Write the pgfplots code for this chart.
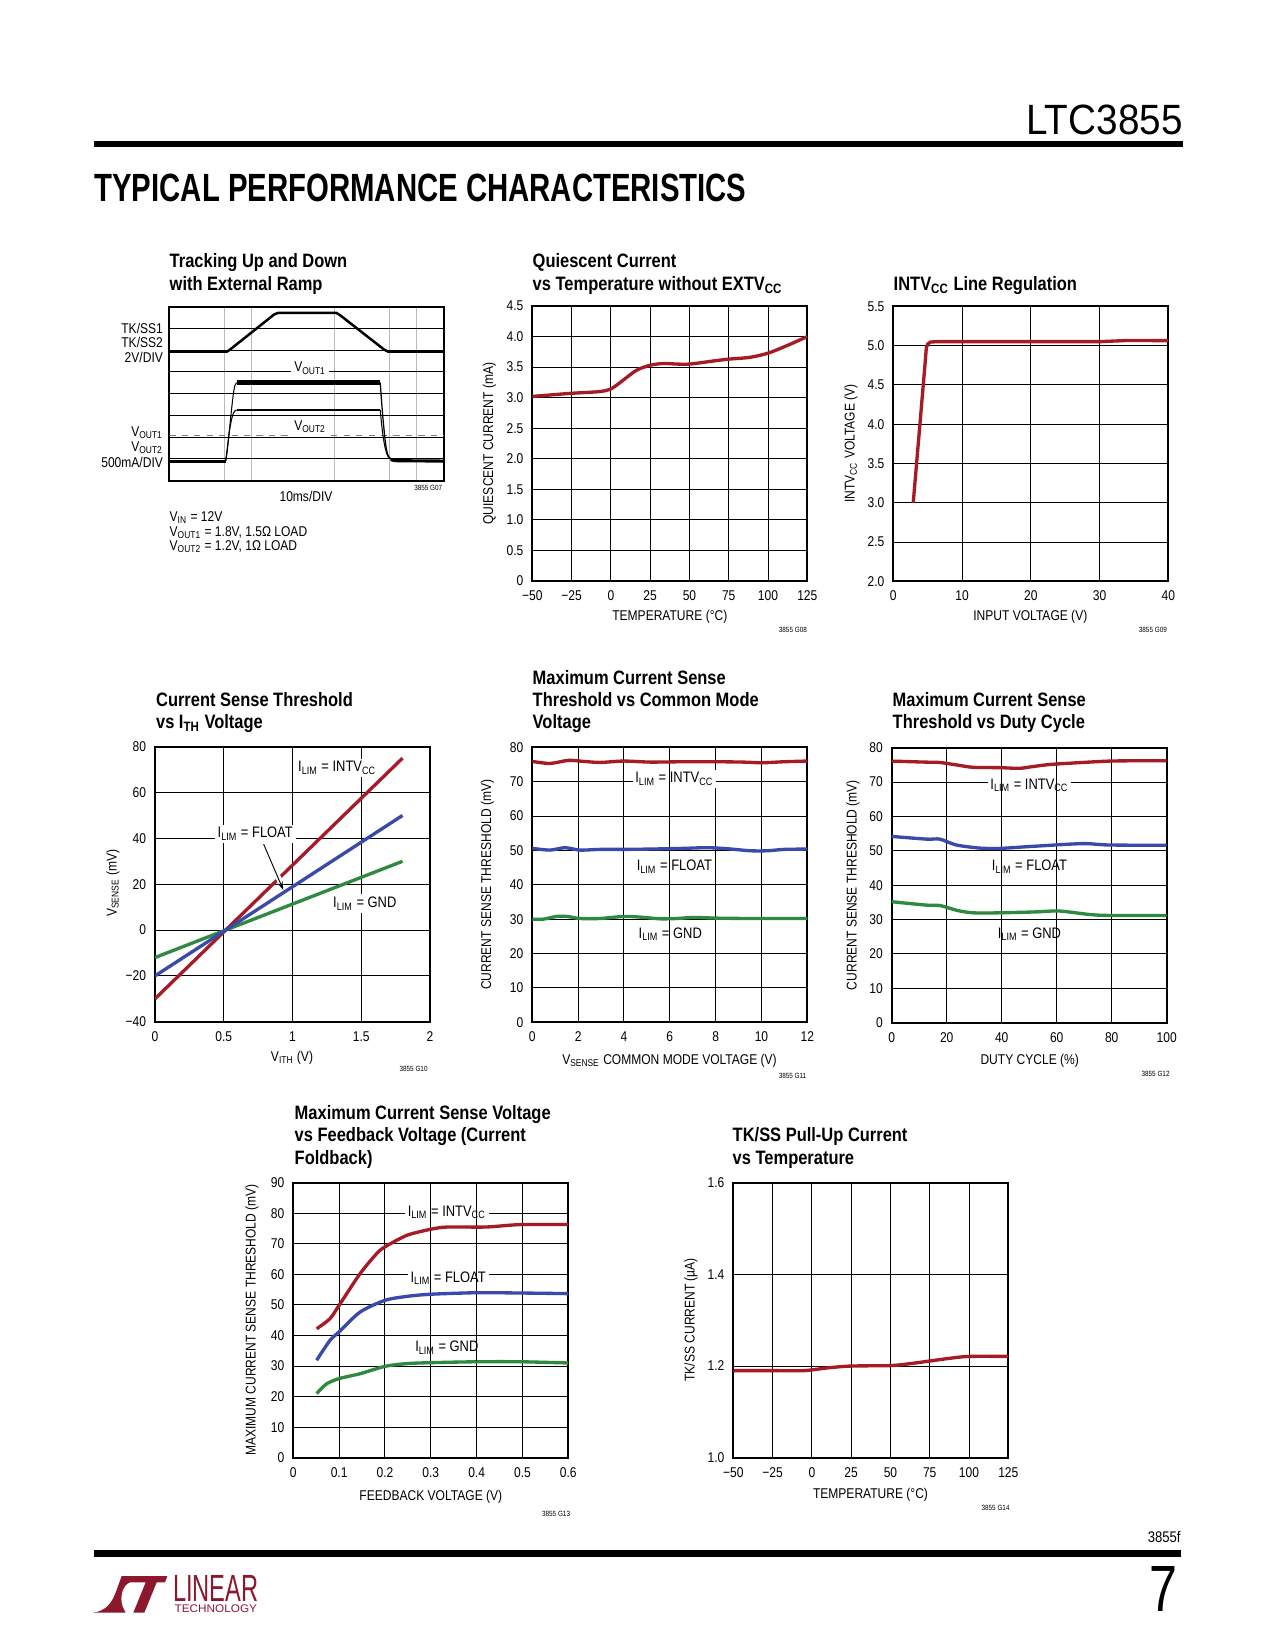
\documentclass[border=0pt]{standalone}
\usepackage{fontspec}
\setmainfont{Liberation Sans}[FakeStretch=0.85]
\usepackage{graphicx}
\usepackage{pgfplots}
\pgfplotsset{compat=1.18}
\usetikzlibrary{arrows.meta}

\definecolor{ltred}{RGB}{165,28,38}
\definecolor{ltblue}{RGB}{58,74,170}
\definecolor{ltgreen}{RGB}{46,138,64}
\definecolor{logored}{RGB}{139,24,44}

\newcommand\sub[1]{\textsubscript{#1}}
\newcommand\tk{\fontsize{6.8bp}{8bp}\selectfont}
\newcommand\lb{\fontsize{7.3bp}{8.5bp}\selectfont}
\newcommand\tl{\fontsize{9.3bp}{11bp}\selectfont\bfseries}
\newcommand\gn{\fontsize{3.6bp}{4bp}\selectfont}

\pgfplotsset{
  ds/.style={scale only axis, width=132bp, height=132bp, anchor=north west,
    axis line style={line width=0.9bp},
    grid=major, major grid style={black, line width=0.5bp},
    major tick length=0pt,
    tick label style={font=\tk},
    xticklabel style={anchor=base, inner sep=0pt, yshift=-9.4bp},
    yticklabel style={anchor=east, inner sep=0pt, xshift=-4.1bp}},
  crv/.style={line width=1.6bp, smooth, tension=0.45, mark=none},
  crvs/.style={line width=1.6bp, mark=none},
}
\tikzset{
  lab/.style={font=\lb, fill=white, inner sep=1.3bp, anchor=base},
  gfix/.style={black, line width=0.5bp},
  ttl/.style={font=\tl, anchor=base west, inner sep=0pt},
  xl/.style={font=\tk, anchor=base, inner sep=0pt},
  yl/.style={font=\tk, rotate=90, inner sep=0pt},
  gno/.style={font=\gn, anchor=base east, inner sep=0pt},
  sl/.style={font=\tk, anchor=base east, inner sep=0pt},
}

\begin{document}
\begin{tikzpicture}[x=0.48bp, y=-0.48bp]
\path[use as bounding box, fill=white] (0,0) rectangle (1275,1650);

% page header
\node[anchor=south east, inner sep=0pt] at (1183,135) {\resizebox{75bp}{14.2bp}{LTC3855}};
\fill (94,141) rectangle (1183,147);
\node[anchor=south west, inner sep=0pt] at (94,202.5) {\resizebox{313bp}{13.2bp}{\bfseries TYPICAL PERFORMANCE CHARACTERISTICS}};

% ---------- G07 scope shot ----------
\node[ttl] at (169.3,267) {Tracking Up and Down};
\node[ttl] at (169.3,290.5) {with External Ramp};
\begin{axis}[scale only axis, width=132bp, height=83.5bp, anchor=north west, at={(169.3*0.48bp,-306.7*0.48bp)},
  xmin=0, xmax=10, ymin=0, ymax=8, axis line style={line width=1bp},
  xtick={2,3,6,8,9}, ytick={1,2,3,4,5,6,7}, xticklabels={}, yticklabels={},
  major tick length=0pt, xmajorgrids, ymajorgrids,
  x grid style={gray!55, line width=0.5bp}, y grid style={black, line width=0.5bp}]
\addplot[gray, dashed, line width=0.4bp] coordinates {(0,2.07) (10,2.07)};
% TK/SS ramp
\addplot[black, line width=1.2bp] coordinates {(0,5.93) (2.09,5.93) (2.2,6.02) (3.82,7.65) (3.97,7.72) (6.07,7.72) (6.2,7.62) (7.82,6.02) (7.97,5.93) (10,5.93)};
% output currents
\addplot[black, line width=1.5bp] coordinates {(0,0.9) (2.05,0.9)};
\addplot[black, line width=1.5bp] coordinates {(8.05,0.97) (8.2,0.92) (10,0.9)};
\addplot[black, line width=0.5bp, smooth] coordinates {(2.05,0.9) (2.1,1.3) (2.16,2.0) (2.24,3.0) (2.32,3.9) (2.38,4.35) (2.45,4.51)};
\addplot[black, line width=2.5bp] coordinates {(2.45,4.51) (7.67,4.51)};
\addplot[black, line width=0.6bp, smooth] coordinates {(7.67,4.51) (7.71,3.8) (7.76,3.0) (7.82,2.2) (7.88,1.55) (7.96,1.15) (8.08,0.98) (8.2,0.92)};
\addplot[black, line width=0.5bp, smooth] coordinates {(2.05,0.9) (2.12,1.6) (2.2,2.4) (2.3,3.0) (2.38,3.2) (2.45,3.25)};
\addplot[black, line width=1.2bp] coordinates {(2.45,3.25) (7.67,3.25)};
\addplot[black, line width=0.5bp, smooth] coordinates {(7.67,3.25) (7.72,2.6) (7.78,2.0) (7.85,1.5) (7.95,1.12) (8.1,0.96)};
\node[lab, font=\tk, inner sep=1.6bp] at (axis cs:5.12,5.0) {V\sub{OUT1}};
\node[lab, font=\tk, inner sep=1.6bp] at (axis cs:5.12,2.33) {V\sub{OUT2}};
\end{axis}
\node[sl] at (163.3,333) {TK/SS1};
\node[sl] at (163.3,347.5) {TK/SS2};
\node[sl] at (163.3,362) {2V/DIV};
\node[sl] at (163.3,436.5) {V\sub{OUT1}};
\node[sl] at (163.3,451.5) {V\sub{OUT2}};
\node[sl] at (163.3,467.5) {500mA/DIV};
\node[xl] at (306,501.7) {10ms/DIV};
\node[gno] at (442.7,490.7) {3855 G07};
\node[font=\tk, anchor=base west, inner sep=0pt] at (169.3,521.5) {V\sub{IN} = 12V};
\node[font=\tk, anchor=base west, inner sep=0pt] at (169.3,536) {V\sub{OUT1} = 1.8V, 1.5Ω LOAD};
\node[font=\tk, anchor=base west, inner sep=0pt] at (169.3,550.5) {V\sub{OUT2} = 1.2V, 1Ω LOAD};

% ---------- G08 quiescent current ----------
\node[ttl] at (532.3,267) {Quiescent Current};
\node[ttl] at (532.3,290.5) {vs Temperature without EXTV\sub{CC}};
\begin{axis}[ds, at={(532.3*0.48bp,-306*0.48bp)}, xmin=-50, xmax=125, ymin=0, ymax=4.5,
  xtick={-50,-25,0,25,50,75,100,125}, xticklabels={−50,−25,0,25,50,75,100,125},
  ytick={0,0.5,1,1.5,2,2.5,3,3.5,4,4.5}, yticklabels={0,0.5,1.0,1.5,2.0,2.5,3.0,3.5,4.0,4.5}]
\addplot[crv, ltred] coordinates {(-50,3.02) (-26,3.07) (-7,3.10) (0.5,3.15) (8,3.29) (16.4,3.45) (24.9,3.53) (33.4,3.56) (41.9,3.55) (50.3,3.55) (65.2,3.60) (74.7,3.63) (88.5,3.66) (100.2,3.73) (111.9,3.85) (125,4.0)};
\end{axis}
\node[xl] at (669.8,620) {TEMPERATURE (°C)};
\node[yl] at (489.5,443.5) {QUIESCENT CURRENT (mA)};
\node[gno] at (807.3,632) {3855 G08};

% ---------- G09 INTVcc line regulation ----------
\node[ttl] at (893.3,290.5) {INTV\sub{CC} Line Regulation};
\begin{axis}[ds, at={(893.3*0.48bp,-306.3*0.48bp)}, xmin=0, xmax=40, ymin=2, ymax=5.5,
  xtick={0,10,20,30,40}, xticklabels={0,10,20,30,40},
  ytick={2,2.5,3,3.5,4,4.5,5,5.5}, yticklabels={2.0,2.5,3.0,3.5,4.0,4.5,5.0,5.5}]
\addplot[crvs, ltred] coordinates {(2.9,3.0) (4.65,4.8) (4.8,4.97) (5.0,5.02) (5.4,5.045) (6.3,5.05) (30,5.05) (34,5.065) (40,5.063)};
\end{axis}
\node[xl] at (1030.3,620) {INPUT VOLTAGE (V)};
\node[yl] at (851,443.6) {INTV\sub{CC} VOLTAGE (V)};
\node[gno] at (1167.3,632) {3855 G09};

% ---------- G10 current sense threshold vs ITH ----------
\node[ttl] at (155.7,706) {Current Sense Threshold};
\node[ttl] at (155.7,728.5) {vs I\sub{TH} Voltage};
\begin{axis}[ds, at={(155*0.48bp,-746.7*0.48bp)}, xmin=0, xmax=2, ymin=-40, ymax=80,
  xtick={0,0.5,1,1.5,2}, xticklabels={0,0.5,1,1.5,2},
  ytick={-40,-20,0,20,40,60,80}, yticklabels={−40,−20,0,20,40,60,80}]
\addplot[crvs, ltred] coordinates {(0,-30) (1.8,75)};
\addplot[crvs, ltgreen] coordinates {(0,-12) (1.8,30)};
\addplot[crvs, ltblue] coordinates {(0,-20) (1.8,50)};
\draw[white, line width=2.6bp] (axis cs:0.865,27.1) -- (axis cs:0.922,19.6);
\draw[black, line width=0.45bp, -{Stealth[length=4bp, width=2.6bp]}] (axis cs:0.79,37.5) -- (axis cs:0.933,17.5);
\node[lab] at (axis cs:1.325,69.0) {I\sub{LIM} = INTV\sub{CC}};
\node[lab] at (axis cs:0.729,40.2) {I\sub{LIM} = FLOAT};
\node[lab] at (axis cs:1.526,9.75) {I\sub{LIM} = GND};
\end{axis}
\node[xl] at (292,1061) {V\sub{ITH} (V)};
\node[yl] at (113,883.4) {V\sub{SENSE} (mV)};
\node[gno] at (428,1071.7) {3855 G10};

% ---------- G11 max current sense vs common mode ----------
\node[ttl] at (532.3,684) {Maximum Current Sense};
\node[ttl] at (532.3,706) {Threshold vs Common Mode};
\node[ttl] at (532.3,728.5) {Voltage};
\begin{axis}[ds, at={(532.3*0.48bp,-747.3*0.48bp)}, xmin=0, xmax=12, ymin=0, ymax=80,
  xtick={0,2,4,6,8,10,12}, xticklabels={0,2,4,6,8,10,12},
  ytick={0,10,...,80}, yticklabels={0,10,20,30,40,50,60,70,80}]
\addplot[crv, ltred] coordinates {(0,75.9) (0.77,75.3) (1.57,76.2) (2.23,75.9) (2.96,75.6) (3.98,76.0) (5.15,75.7) (6.6,75.8) (8.06,75.8) (9.2,75.7) (10.03,75.5) (10.98,75.8) (12,76.0)};
\addplot[crv, ltblue] coordinates {(0,50.6) (0.77,50.1) (1.43,50.8) (2.08,50.1) (2.96,50.3) (3.98,50.3) (5.15,50.4) (6.6,50.6) (7.62,50.8) (8.5,50.5) (9.52,49.9) (10.25,49.9) (10.98,50.3) (12,50.4)};
\addplot[crv, ltgreen] coordinates {(0,30.0) (0.48,30.0) (1.06,30.8) (1.5,30.8) (2.08,30.2) (2.96,30.2) (3.98,30.8) (4.71,30.6) (5.59,30.1) (6.32,30.2) (7.04,30.5) (8.06,30.3) (9.52,30.2) (12,30.2)};
\node[lab] at (axis cs:6.2,69.7) {I\sub{LIM} = INTV\sub{CC}};
\node[lab] at (axis cs:6.2,44.1) {I\sub{LIM} = FLOAT};
\node[lab] at (axis cs:6.02,24.4) {I\sub{LIM} = GND};
\draw[gfix] (axis cs:6,66.5) -- (axis cs:6,75);
\draw[gfix] (axis cs:6,41) -- (axis cs:6,49.5);
\draw[gfix] (axis cs:6,21.3) -- (axis cs:6,29.8);
\end{axis}
\node[xl] at (669.5,1064) {V\sub{SENSE} COMMON MODE VOLTAGE (V)};
\node[yl] at (487.5,884.8) {CURRENT SENSE THRESHOLD (mV)};
\node[gno] at (806.7,1078.3) {3855 G11};

% ---------- G12 max current sense vs duty cycle ----------
\node[ttl] at (892.3,706) {Maximum Current Sense};
\node[ttl] at (892.3,728.5) {Threshold vs Duty Cycle};
\begin{axis}[ds, at={(891.7*0.48bp,-747.7*0.48bp)}, xmin=0, xmax=100, ymin=0, ymax=80,
  xtick={0,20,...,100}, xticklabels={0,20,40,60,80,100},
  ytick={0,10,...,80}, yticklabels={0,10,20,30,40,50,60,70,80}]
\addplot[crv, ltred] coordinates {(0,76.1) (12.7,75.8) (17.5,75.7) (23.5,75.0) (29.5,74.3) (39.2,74.2) (46.4,74.0) (51.2,74.5) (57.2,75.1) (65,75.5) (78.9,76.1) (90,76.2) (100,76.2)};
\addplot[crv, ltblue] coordinates {(0,54.2) (12.7,53.4) (17.5,53.4) (23.5,51.7) (31.9,50.8) (39.2,50.7) (51.2,51.3) (69.3,52.1) (78.9,51.7) (100,51.6)};
\addplot[crv, ltgreen] coordinates {(0,35.2) (12.7,34.2) (17.5,34.1) (24.7,32.5) (31.9,31.9) (51.2,32.2) (60.8,32.5) (71.7,31.5) (78.9,31.2) (100,31.2)};
\node[lab] at (axis cs:50.1,67.9) {I\sub{LIM} = INTV\sub{CC}};
\node[lab] at (axis cs:50.1,44.2) {I\sub{LIM} = FLOAT};
\node[lab] at (axis cs:50.1,24.5) {I\sub{LIM} = GND};
\draw[gfix] (axis cs:40,64.5) -- (axis cs:40,73.5);
\draw[gfix] (axis cs:60,64.5) -- (axis cs:60,73.5);
\draw[gfix] (axis cs:40,41) -- (axis cs:40,49.5);
\draw[gfix] (axis cs:60,41) -- (axis cs:60,49.5);
\draw[gfix] (axis cs:40,21.3) -- (axis cs:40,29.8);
\draw[gfix] (axis cs:60,21.3) -- (axis cs:60,29.8);
\end{axis}
\node[xl] at (1029.7,1064) {DUTY CYCLE (\%)};
\node[yl] at (853,885) {CURRENT SENSE THRESHOLD (mV)};
\node[gno] at (1170,1076) {3855 G12};

% ---------- G13 foldback ----------
\node[ttl] at (294.3,1119.3) {Maximum Current Sense Voltage};
\node[ttl] at (294.3,1141.7) {vs Feedback Voltage (Current};
\node[ttl] at (294.3,1164) {Foldback)};
\begin{axis}[ds, at={(293.3*0.48bp,-1182.7*0.48bp)}, xmin=0, xmax=0.6, ymin=0, ymax=90,
  xtick={0,0.1,...,0.6}, xticklabels={0,0.1,0.2,0.3,0.4,0.5,0.6},
  ytick={0,10,...,90}, yticklabels={0,10,20,30,40,50,60,70,80,90}]
\addplot[crv, ltred] coordinates {(0.051,42.2) (0.08,45.5) (0.1,49.9) (0.146,60.3) (0.182,66.8) (0.2,69) (0.248,72.8) (0.301,74.8) (0.336,75.5) (0.42,75.5) (0.496,76.3) (0.6,76.3)};
\addplot[crv, ltblue] coordinates {(0.051,31.9) (0.08,38.4) (0.1,41.2) (0.146,47.7) (0.2,51.5) (0.248,52.8) (0.3,53.5) (0.401,54.0) (0.496,53.9) (0.6,53.7)};
\addplot[crv, ltgreen] coordinates {(0.051,21) (0.073,24.2) (0.1,25.9) (0.146,27.5) (0.2,29.9) (0.248,30.8) (0.3,31.1) (0.4,31.4) (0.496,31.4) (0.6,31.0)};
\node[lab] at (axis cs:0.335,79.06) {I\sub{LIM} = INTV\sub{CC}};
\node[lab] at (axis cs:0.338,57.5) {I\sub{LIM} = FLOAT};
\node[lab] at (axis cs:0.335,34.6) {I\sub{LIM} = GND};
\draw[gfix] (axis cs:0.3,76) -- (axis cs:0.3,84);
\draw[gfix] (axis cs:0.4,76) -- (axis cs:0.4,84);
\draw[gfix] (axis cs:0.3,54.5) -- (axis cs:0.3,62.5);
\draw[gfix] (axis cs:0.4,54.5) -- (axis cs:0.4,62.5);
\draw[gfix] (axis cs:0.3,31.6) -- (axis cs:0.3,39.6);
\draw[gfix] (axis cs:0.4,31.6) -- (axis cs:0.4,39.6);
\end{axis}
\node[xl] at (430.8,1500) {FEEDBACK VOLTAGE (V)};
\node[yl] at (252,1320) {MAXIMUM CURRENT SENSE THRESHOLD (mV)};
\node[gno] at (570.5,1516) {3855 G13};

% ---------- G14 TK/SS pull-up current ----------
\node[ttl] at (732.3,1141.7) {TK/SS Pull-Up Current};
\node[ttl] at (732.3,1164) {vs Temperature};
\begin{axis}[ds, at={(733.3*0.48bp,-1182.7*0.48bp)}, xmin=-50, xmax=125, ymin=1, ymax=1.6,
  xtick={-50,-25,0,25,50,75,100,125}, xticklabels={−50,−25,0,25,50,75,100,125},
  ytick={1,1.2,1.4,1.6}, yticklabels={1.0,1.2,1.4,1.6}]
\addplot[crv, ltred] coordinates {(-50,1.19) (-25,1.19) (-5,1.19) (10,1.196) (25,1.2) (50,1.201) (62,1.205) (75,1.211) (88,1.217) (100,1.221) (125,1.221)};
\end{axis}
\node[xl] at (870.5,1498) {TEMPERATURE (°C)};
\node[yl] at (691,1319.7) {TK/SS CURRENT (µA)};
\node[gno] at (1010,1510) {3855 G14};

% page footer
\node[font=\fontsize{7.4bp}{8bp}\selectfont, anchor=base east, inner sep=0pt] at (1181,1542.7) {3855f};
\fill (94,1550) rectangle (1181,1556.7);
\node[anchor=south east, inner sep=0pt] at (1178,1612) {\resizebox{13.4bp}{21.6bp}{7}};
\begin{scope}[shift={(80,1450)}, x=0.16bp, y=-0.16bp]
\fill[logored] (38,488) .. controls (78,484) and (96,458) .. (108,425) -- (125,378) -- (262,378) -- (255,397) -- (230,397) -- (193,488) -- (160,488) -- (197,397) -- (150,397) .. controls (128,405) and (118,440) .. (128,470) -- (137,488) -- cycle;
\end{scope}
\node[anchor=south west, inner sep=0pt, text=logored] at (172.7,1602.3) {\resizebox{41bp}{12.5bp}{LINEAR}};
\node[anchor=south west, inner sep=0pt, text=logored] at (174.3,1613) {\resizebox{39.5bp}{3.7bp}{TECHNOLOGY}};
\end{tikzpicture}
\end{document}
